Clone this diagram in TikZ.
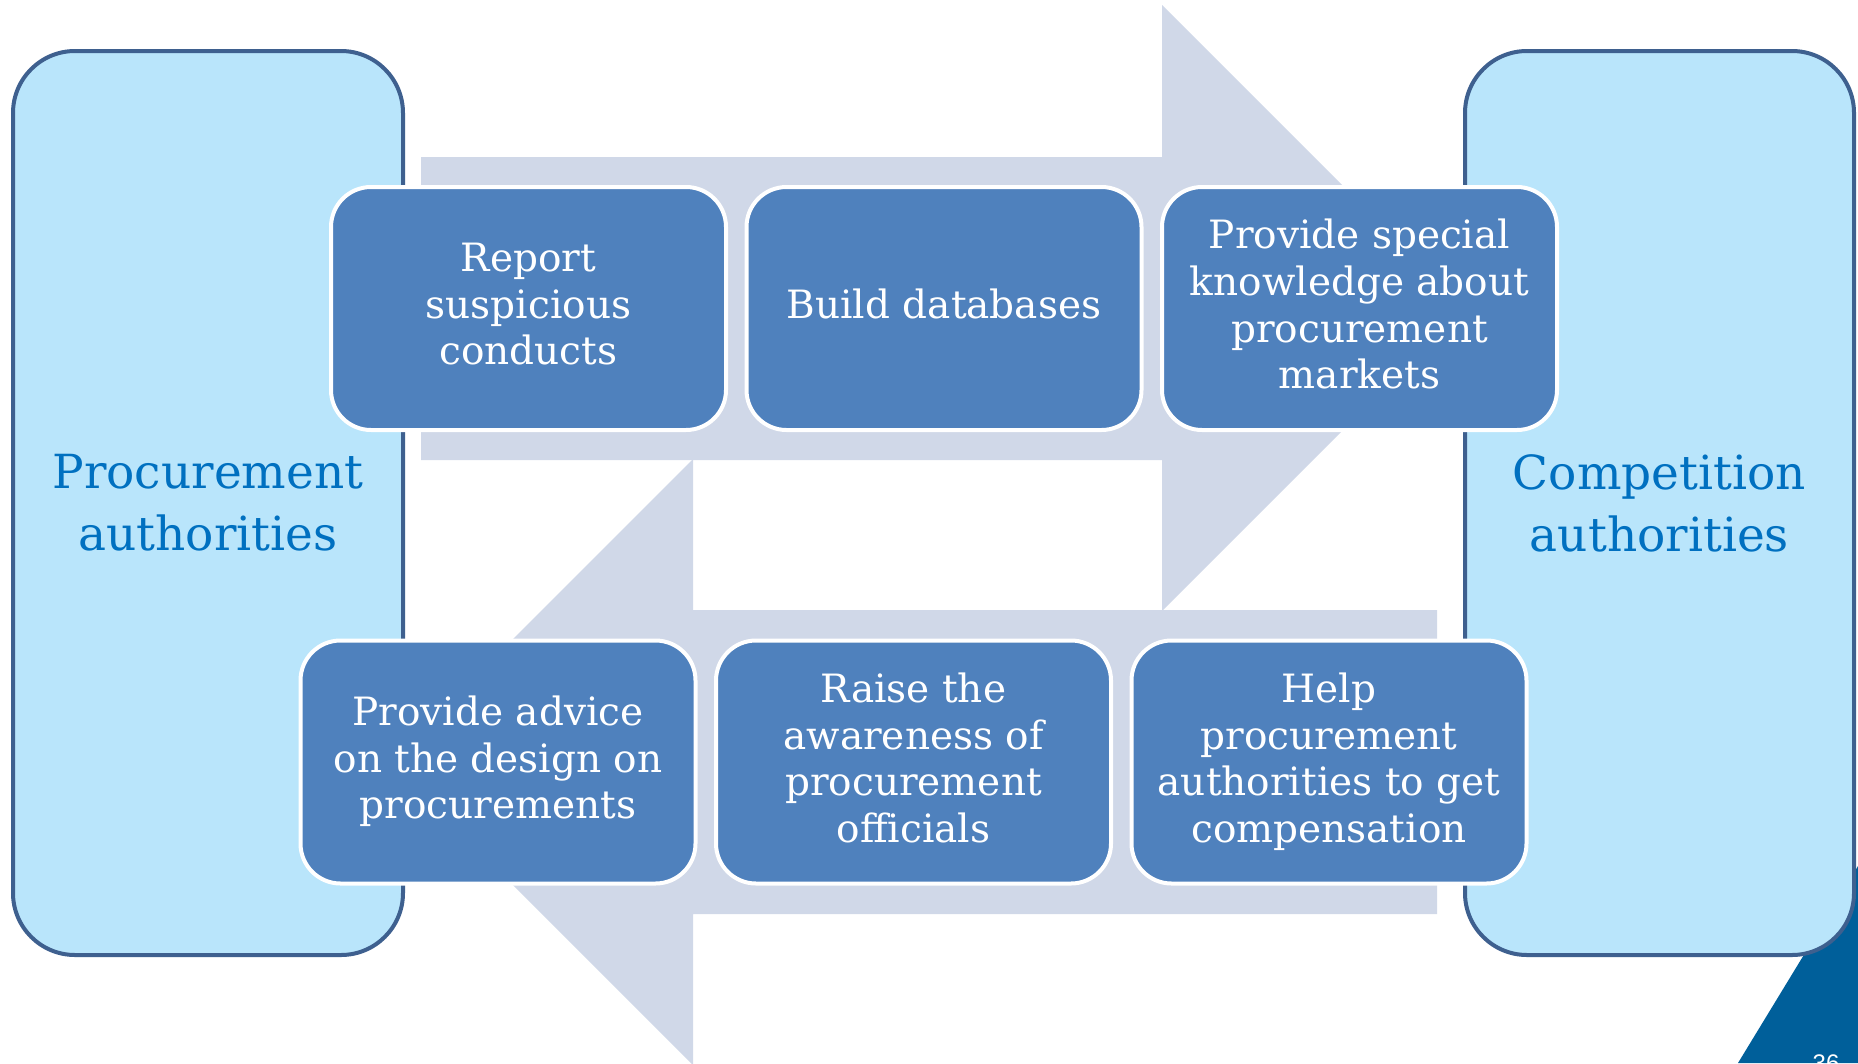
\documentclass[tikz,border=0pt]{standalone}
\usepackage{fontspec}
\setmainfont{DejaVu Serif}
\newfontfamily\pagefont{Liberation Sans}
\usetikzlibrary{positioning}

\definecolor{arrowgray}{HTML}{D0D8E8}
\definecolor{taskblue}{HTML}{4F81BD}
\definecolor{sideblue}{HTML}{B9E5FB}
\definecolor{sideline}{HTML}{3E608F}
\definecolor{sidetext}{HTML}{0070C0}
\definecolor{cornerblue}{HTML}{005F9A}

\newcommand{\taskstrut}{\rule[-9pt]{0pt}{37pt}}

\tikzset{
  task/.style={draw=white, line width=4pt, fill=taskblue, rounded corners=40pt,
    minimum width=395pt, minimum height=243pt, inner sep=0pt,
    text=white, align=center, font=\fontsize{39}{46.6}\selectfont},
  side/.style={draw=sideline, line width=4pt, fill=sideblue, rounded corners=62pt,
    minimum width=390pt, minimum height=904pt,
    text=sidetext, align=center, font=\fontsize{47}{62}\selectfont},
  flow/.style={fill=arrowgray}
}

\begin{document}
\begin{tikzpicture}[x=1pt,y=-1pt]
\clip (0,0) rectangle (1858,1063);
\fill[white] (0,0) rectangle (1858,1063);

% corner of the slide
\fill[cornerblue] (1738,1063) -- (1858,866) -- (1858,1063) -- cycle;
\node[font=\pagefont\fontsize{24}{24}\selectfont, text=white, anchor=north, inner sep=0pt] (pagenum) at (1826,1055) {36};

% Arrows
\fill[flow] (421,157) -- (1162,157) -- (1162,5) -- (1465,308) -- (1162,611) -- (1162,460) -- (421,460) -- cycle;
\fill[flow] (1437,610) -- (693,610) -- (693,459) -- (390,762) -- (693,1065) -- (693,914) -- (1437,914) -- cycle;

% Authorities
\node[side] (procauth) at (208,503) {Procurement\\authorities};
\node[side, minimum width=389pt] (compauth) at (1659.5,503) {Competition\\authorities};

% Top row
\node[task] (report) at (528.5,308.5) {\taskstrut Report\\suspicious\\conducts\taskstrut};
\node[task, right=16.5pt of report] (databases) {\taskstrut Build databases\taskstrut};
\node[task, right=16.5pt of databases] (knowledge) {\taskstrut Provide special\\knowledge about\\procurement\\markets\taskstrut};

% Bottom row
\node[task] (advice) at (498,762) {\taskstrut Provide advice\\on the design on\\procurements\taskstrut};
\node[task, right=16.5pt of advice] (awareness) {\taskstrut Raise the\\awareness of\\procurement\\officials\taskstrut};
\node[task, right=16.5pt of awareness] (compensation) {\taskstrut Help\\procurement\\authorities to get\\compensation\taskstrut};
\end{tikzpicture}
\end{document}
